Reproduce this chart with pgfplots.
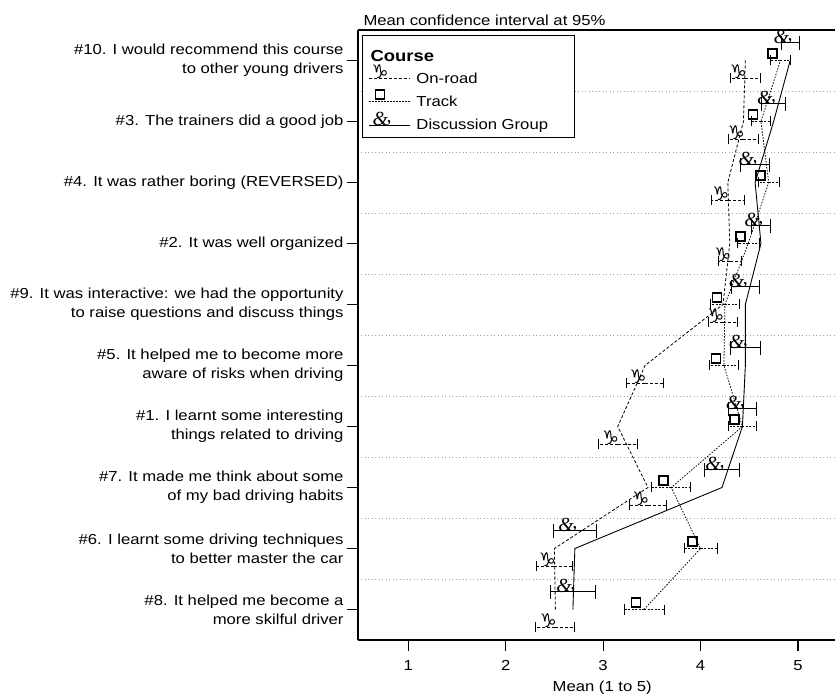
\documentclass[border=0pt]{standalone}
\usepackage{fontspec}
\setmainfont{Liberation Sans}[FakeStretch=1.15]
\newfontfamily\symfont{DejaVu Sans}
\newfontfamily\ampfont{Liberation Serif}
\usepackage{pgfplots}
\usepackage{pgfplotstable}
\pgfplotsset{compat=1.18}

\pgfplotstableread{
c on one tr tre dg dge
1 2.51 0.20 3.42 0.205 2.69 0.23
2 2.50 0.18 4.00 0.17 2.71 0.22
3 3.46 0.19 3.70 0.20 4.22 0.18
4 3.15 0.20 4.43 0.14 4.43 0.14
5 3.43 0.19 4.24 0.15 4.46 0.15
6 4.23 0.15 4.25 0.15 4.46 0.14
7 4.30 0.12 4.49 0.11 4.62 0.10
8 4.28 0.17 4.70 0.11 4.56 0.15
9 4.44 0.15 4.62 0.10 4.75 0.12
10 4.46 0.15 4.82 0.10 4.92 0.09
}\data

\newcommand{\fs}{\fontsize{14.5bp}{19bp}\selectfont}
\newcommand{\onmark}{{\symfont\fontsize{19bp}{19bp}\selectfont ♑}}
\newcommand{\dgmark}{{\ampfont\itshape\fontsize{20bp}{20bp}\selectfont\&\kern-1.5bp\raisebox{3bp}{,}}}

\tikzset{
  onroadline/.style={black, line width=0.8bp, dash pattern=on 3bp off 2bp},
  trackline/.style={black, line width=0.8bp, dash pattern=on 1.5bp off 1.5bp},
  discline/.style={black, line width=0.9bp, solid},
}
\pgfplotsset{
  myleg/.style={legend image code/.code={\draw[mark repeat=2,mark phase=2,##1] plot coordinates {(0bp,0bp) (20bp,0bp) (41bp,0bp)};}},
  courseleg/.style={legend image code/.code={\node[overlay, anchor=base west, inner sep=0pt, font=\bfseries\fontsize{16bp}{16bp}\selectfont] at (1bp,-11bp) {Course};}},
}

\begin{document}
\begin{tikzpicture}
\begin{axis}[
  scale only axis,
  width=477bp, height=610bp,
  xmin=0.484, xmax=5.38,
  ymin=0.5, ymax=10.5,
  axis x line*=box, axis y line*=left,
  axis line style={black, line width=1.3bp, -},
  xtick={1,2,3,4,5},
  xtick pos=bottom, ytick pos=left,
  tick align=outside,
  major tick length=11bp,
  tick style={black, line width=1.1bp},
  ytick={1,...,10},
  yticklabels={
    {\#8. It helped me become a\\more skilful driver},
    {\#6. I learnt some driving techniques\\to better master the car},
    {\#7. It made me think about some\\of my bad driving habits},
    {\#1. I learnt some interesting\\things related to driving},
    {\#5. It helped me to become more\\aware of risks when driving},
    {\#9. It was interactive: we had the opportunity\\to raise questions and discuss things},
    {\#2. It was well organized},
    {\#4. It was rather boring (REVERSED)},
    {\#3. The trainers did a good job},
    {\#10. I would recommend this course\\to other young drivers}},
  yticklabel style={align=right, font=\fs},
  xticklabel style={font=\fs, yshift=-6bp},
  /pgf/number format/assume math mode=true,
  minor ytick={1.5,2.5,...,9.5},
  minor tick length=0pt,
  yminorgrids,
  minor grid style={gray!75, line width=0.8bp, dash pattern=on 1bp off 2.5bp},
  title={Mean confidence interval at 95\%},
  title style={at={(axis description cs:0,1)}, anchor=base west, xshift=2bp, yshift=-1bp, font=\fs},
  xlabel={Mean (1 to 5)},
  xlabel style={at={(axis description cs:0.512,0)}, anchor=base, yshift=-51bp, font=\fs},
  legend style={at={(axis description cs:0.0084,0.9918)}, anchor=north west,
    draw=black, line width=1.2bp, font=\fs, row sep=3bp, column sep=4bp,
    inner xsep=6bp, inner ysep=4bp, fill=white},
  legend cell align=left,
  clip=false,
]
% legend
\addlegendimage{courseleg}
\addlegendentry{\rule{0pt}{16.6bp}}
\addlegendimage{onroadline, mark=text, text mark={\onmark}, mark options={solid, xshift=-9bp, yshift=7bp}, myleg}
\addlegendentry{On-road}
\addlegendimage{trackline, mark=square, mark size=4.5bp, mark options={solid, line width=1.8bp, xshift=-9bp, yshift=7.5bp}, myleg}
\addlegendentry{Track}
\addlegendimage{discline, mark=text, text mark={\dgmark}, mark options={solid, xshift=-7bp, yshift=6bp}, myleg}
\addlegendentry{\makebox[150bp][l]{Discussion Group}}

% connecting lines
\addplot[onroadline, mark=none, forget plot] table[x=on, y=c] {\data};
\addplot[trackline, mark=none, forget plot] table[x=tr, y=c] {\data};
\addplot[discline, mark=none, forget plot] table[x=dg, y=c] {\data};

% error bars
\addplot[forget plot, mark=none, draw=none,
  error bars/.cd, x dir=both, x explicit, error mark=|,
  error mark options={black, solid, line width=0.8bp, mark size=5bp},
  error bar style={black, line width=0.8bp, dash pattern=on 3bp off 2bp}]
  table[x=on, y expr=\thisrow{c}-0.29, x error=one] {\data};
\addplot[forget plot, mark=none, draw=none,
  error bars/.cd, x dir=both, x explicit, error mark=|,
  error mark options={black, solid, line width=0.8bp, mark size=5bp},
  error bar style={black, line width=0.8bp, dash pattern=on 2bp off 1.5bp}]
  table[x=tr, y=c, x error=tre] {\data};
\addplot[forget plot, mark=none, draw=none,
  error bars/.cd, x dir=both, x explicit, error mark=|,
  error mark options={black, solid, line width=0.9bp, mark size=7bp},
  error bar style={black, line width=0.9bp, solid}]
  table[x=dg, y expr=\thisrow{c}+0.29, x error=dge] {\data};

% markers
\addplot[forget plot, only marks, mark=text, text mark={\onmark},
  mark options={xshift=-7bp, yshift=7bp}]
  table[x=on, y expr=\thisrow{c}-0.29] {\data};
\addplot[forget plot, only marks, mark=square, mark size=4.5bp,
  mark options={black, solid, line width=1.8bp, xshift=-8bp, yshift=7bp}]
  table[x=tr, y=c] {\data};
\addplot[forget plot, only marks, mark=text, text mark={\dgmark},
  mark options={xshift=-7bp, yshift=6bp}]
  table[x=dg, y expr=\thisrow{c}+0.29] {\data};
\end{axis}
\pgfresetboundingbox
\path[use as bounding box] (-358bp,-55bp) rectangle (477bp,640bp);
\end{tikzpicture}
\end{document}
